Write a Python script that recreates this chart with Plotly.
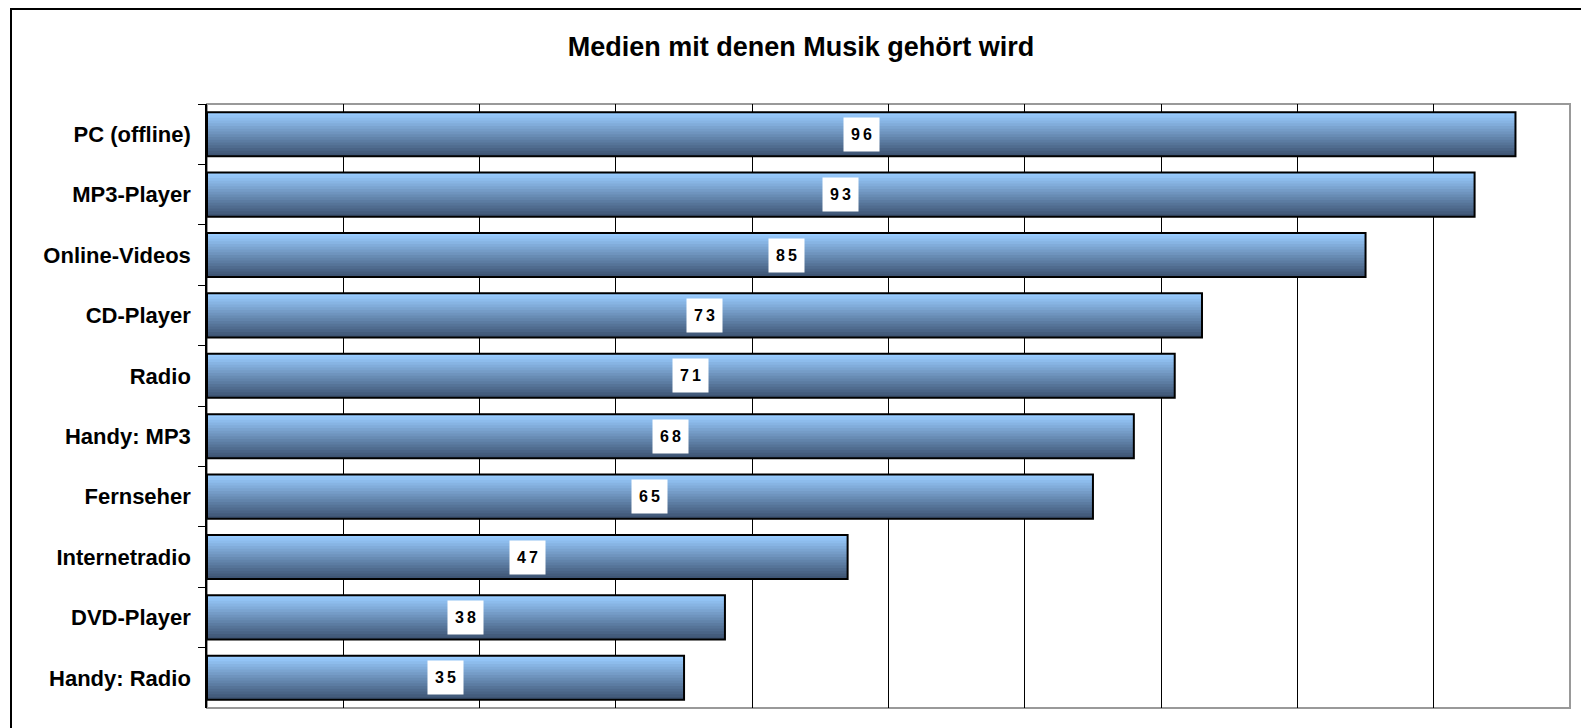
import plotly.graph_objects as go

# data
medien = ["PC (offline)", "MP3-Player", "Online-Videos", "CD-Player", "Radio",
          "Handy: MP3", "Fernseher", "Internetradio", "DVD-Player", "Handy: Radio"]
werte = [96, 93, 85, 73, 71, 68, 65, 47, 38, 35]
titel = "Medien mit denen Musik gehört wird"

# the page body adds 8px, so the figure is 8px smaller and shifted
W, H = 1581, 720
ml, mr, mt, mb = 199, 19, 96, 20
pw, ph = W - ml - mr, H - mt - mb

bar_w = 0.73
n_strips = 16
hell = (153, 204, 255)
dunkel = (62, 84, 115)

fig = go.Figure()

# fake vertical gradient: each strip runs from its top down to the bar bottom,
# drawn light to dark so no seams show
for i in range(n_strips):
    t = i / (n_strips - 1)
    c = tuple(round(hell[k] + (dunkel[k] - hell[k]) * t) for k in range(3))
    fig.add_trace(go.Bar(
        x=werte, y=medien, orientation="h",
        width=bar_w - i * bar_w / n_strips, offset=-bar_w / 2 + i * bar_w / n_strips,
        marker=dict(color="rgb(%d,%d,%d)" % c, line=dict(width=0)),
        hoverinfo="skip", showlegend=False,
    ))

# outline on top
fig.add_trace(go.Bar(
    x=werte, y=medien, orientation="h", width=bar_w, offset=-bar_w / 2,
    marker=dict(color="rgba(0,0,0,0)", line=dict(color="black", width=2)),
    showlegend=False,
))

# value labels in white boxes at bar centres
for m, v in zip(medien, werte):
    fig.add_annotation(
        x=v / 2, y=m, text="<b>" + "\u2009".join(str(v)) + "</b>", showarrow=False,
        font=dict(family="Liberation Sans, Arial", size=16, color="black"),
        bgcolor="white", width=35, height=33, borderpad=0,
        align="center", valign="middle",
    )

# outer frame and plot frame
fig.add_shape(type="rect", xref="paper", yref="paper",
              x0=(3 - ml) / pw, x1=(1579 - ml) / pw,
              y0=(H - mb - 740) / ph, y1=(H - mb - 1) / ph,
              line=dict(color="black", width=2), layer="above")
fig.add_shape(type="rect", xref="paper", yref="paper", x0=0, x1=1, y0=0, y1=1,
              line=dict(color="#999999", width=2), layer="below")

fig.update_layout(
    width=W, height=H,
    margin=dict(l=ml, r=mr, t=mt, b=mb),
    paper_bgcolor="white", plot_bgcolor="white",
    barmode="overlay",
    title=dict(text="<b>" + titel + "</b>", x=793 / W, xanchor="center",
               y=1 - 39 / H, yanchor="middle",
               font=dict(family="Liberation Sans, Arial", size=27, color="black")),
    font=dict(family="Liberation Sans, Arial", color="black"),
    xaxis=dict(range=[0, 100], dtick=10, showticklabels=False, showgrid=True,
               gridcolor="black", gridwidth=1, zeroline=False, showline=False,
               fixedrange=True),
    yaxis=dict(categoryorder="array", categoryarray=medien, autorange="reversed",
               tickson="boundaries", ticks="outside", ticklen=7, tickcolor="black",
               showline=True, linecolor="black", linewidth=1.5, showgrid=False,
               tickfont=dict(family="Liberation Sans, Arial", size=22, color="black"),
               ticklabelstandoff=10, automargin=False),
)
fig.update_yaxes(tickprefix="<b>", ticksuffix="</b>")

fig.write_html("out.html")
